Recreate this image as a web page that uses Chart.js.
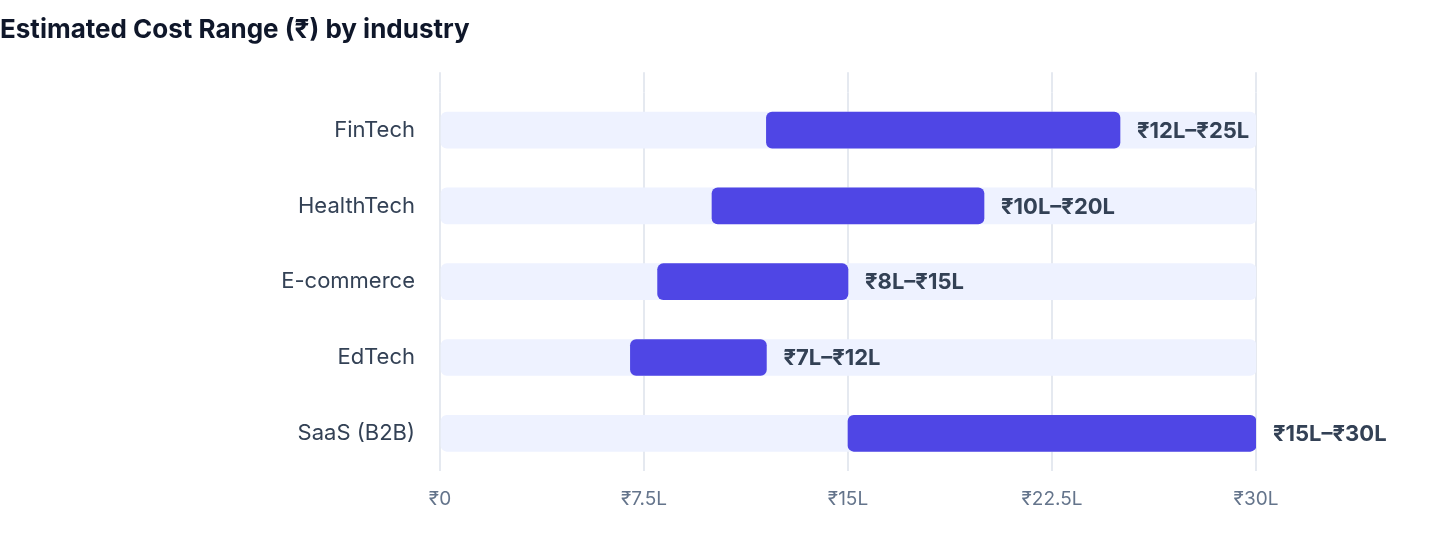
<!DOCTYPE html>
<html>
<head>
<meta charset="utf-8">
<script src="https://cdn.jsdelivr.net/npm/chart.js@4"></script>
<style>
  body { margin: 0; background: #fff; }
  #wrap { width: 1440px; height: 560px; }
</style>
</head>
<body>
<div id="wrap"><canvas id="costChart"></canvas></div>
<script>
// industries and cost range (in lakhs)
const industries = ['FinTech', 'HealthTech', 'E-commerce', 'EdTech', 'SaaS (B2B)'];
const costLow = [12, 10, 8, 7, 15];
const costHigh = [25, 20, 15, 12, 30];
const trackMax = [30, 30, 30, 30, 30];
const xTicks = [0, 7.5, 15, 22.5, 30];

const FONT = "Inter, 'DejaVu Sans', sans-serif";

function fmt(v) {
  return v === 0 ? '₹0' : '₹' + v + 'L';
}

// labels "₹12L–₹25L" after each range bar
const rangeLabels = {
  id: 'rangeLabels',
  afterDatasetsDraw(chart) {
    const ctx = chart.ctx;
    const meta = chart.getDatasetMeta(0);
    ctx.save();
    ctx.font = 'bold 22px ' + FONT;
    ctx.fillStyle = '#334155';
    ctx.textAlign = 'left';
    ctx.textBaseline = 'middle';
    meta.data.forEach(function (bar, i) {
      ctx.fillText('₹' + costLow[i] + 'L–₹' + costHigh[i] + 'L', bar.x + 17, bar.y + 1);
    });
    ctx.restore();
  }
};

const ctx = document.getElementById('costChart').getContext('2d');
new Chart(ctx, {
  type: 'bar',
  data: {
    labels: industries,
    datasets: [{
      label: 'Range',
      data: industries.map((_, i) => [costLow[i], costHigh[i]]),
      backgroundColor: '#4F46E5',
      borderSkipped: false,
      borderRadius: 6,
      barThickness: 36,
      grouped: false,
      order: 0,
    }, {
      label: 'Track',
      data: trackMax,
      backgroundColor: '#EEF2FF',
      borderSkipped: false,
      borderRadius: 6,
      barThickness: 36,
      grouped: false,
      order: 1,
    }],
  },
  options: {
    indexAxis: 'y',
    responsive: true,
    maintainAspectRatio: false,
    animation: false,
    layout: { padding: { left: 0, right: 184, top: 0, bottom: 32 } },
    plugins: {
      legend: { display: false },
      tooltip: { enabled: false },
      title: {
        display: true,
        text: 'Estimated Cost Range (₹) by industry',
        align: 'start',
        color: '#0F172A',
        font: { family: FONT, size: 26, weight: 'bold' },
        padding: { top: 15, bottom: 26 },
      },
    },
    scales: {
      x: {
        min: 0,
        max: 30,
        afterBuildTicks(scale) {
          scale.ticks = xTicks.map(v => ({ value: v }));
        },
        border: { display: false },
        grid: { color: '#E5E9F0', lineWidth: 2, drawTicks: false },
        ticks: {
          color: '#64748B',
          font: { family: FONT, size: 19 },
          padding: 17,
          callback: v => fmt(v),
        },
      },
      xTop: {
        position: 'top',
        min: 0,
        max: 30,
        afterBuildTicks(scale) {
          scale.ticks = xTicks.map(v => ({ value: v }));
        },
        border: { display: false },
        grid: { color: '#E5E9F0', lineWidth: 2, drawOnChartArea: false, tickLength: 20 },
        ticks: { display: false },
      },
      y: {
        border: { display: false },
        grid: { display: false },
        afterFit(scale) { scale.width = 440; },
        ticks: {
          color: '#334155',
          font: { family: FONT, size: 22 },
          padding: 17,
        },
      },
    },
  },
  plugins: [rangeLabels],
});
</script>
</body>
</html>
